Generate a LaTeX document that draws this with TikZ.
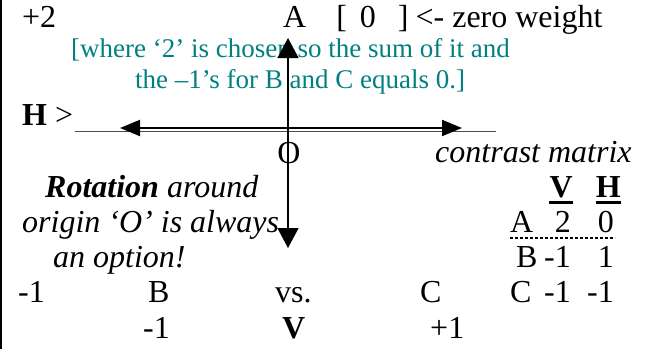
\documentclass[tikz,border=0pt]{standalone}
\usepackage{fontspec}
\setmainfont{Liberation Serif}
\usetikzlibrary{arrows.meta}
\definecolor{noteteal}{RGB}{0,128,128}

\begin{document}
\begin{tikzpicture}[
        x=1pt, y=-1pt,
        txt/.style = {anchor=base west, inner sep=0pt, font=\fontsize{32}{35}\selectfont},
        num/.style = {txt, anchor=base east},
        note/.style = {txt, text=noteteal, font=\fontsize{27}{31}\selectfont},
        axis/.style = {line width=1.5pt, {Triangle[length=20pt,width=21pt]}-{Triangle[length=20pt,width=21pt]}},
        haxis/.style = {line width=2pt, {Triangle[length=20pt,width=16pt]}-{Triangle[length=20pt,width=16pt]}},
        bar/.style = {line width=3pt}
        ]
        \useasboundingbox (0,0) rectangle (645,349);
        \draw[line width=2pt] (1,0) -- (1,349);
        % top rows
        \node[txt] (plus2) at (22,27) {+2};
        \node[txt] (A) at (283,27) {A\hspace{30pt}[\hspace{13pt}0\hspace{22pt}]\hspace{7pt}<- zero weight};
        \node[note] (note1) at (71,57) {[where ‘2’ is chosen so the sum of it and};
        \node[note] (note2) at (135,88) {the –1’s for B and C equals 0.]};
        \node[txt] (H) at (22,125) {\textbf{H} >};
        \coordinate (hend) at (496,131.5);
        \draw[line width=0.8pt, black!70] (H.base east) ++(2,6.5) coordinate (hstart) -- (hend);
        % axes
        \coordinate (vtop) at (288,38);
        \coordinate (vbot) at (288,248);
        \coordinate (hleft) at (120,128);
        \coordinate (hright) at (462,128);
        \draw[haxis] (hleft) -- (hright);
        \draw[axis] (vtop) -- (vbot);
        \node[txt, anchor=base] (O) at (289,163) {O};
        \node[txt] (contrast) at (435,162) {\itshape contrast matrix};
        % left remark
        \node[txt] (rot) at (45,197) {\textbf{\textit{Rotation}} \textit{around}};
        \node[txt] (orig) at (22,232) {\itshape origin ‘O’ is always};
        \node[txt] (opt) at (53,267) {\itshape an option!};
        % bottom rows
        \node[txt] (m1) at (18,302) {-1};
        \node[txt] (B) at (148,302) {B};
        \node[txt] (vs) at (275,302) {vs.};
        \node[txt] (C) at (420,302) {C};
        \node[txt] (m1b) at (143,338) {-1};
        \node[txt] (V) at (282,338) {\textbf{V}};
        \node[txt] (p1) at (430,338) {+1};
        % contrast matrix
        \node[num] (mV) at (573,197) {\textbf{V}};
        \node[num] (mH) at (621,197) {\textbf{H}};
        \draw[bar] (mV.base west) ++(0,5) -- ++(24,0);
        \draw[bar] (mH.base west) ++(0,5) -- ++(25,0);
        \node[txt] (rA) at (510,232) {A};
        \node[num] (rA1) at (571,232) {2};
        \node[num] (rA2) at (614,232) {0};
        \coordinate (dotL) at (510,238);
        \coordinate (dotR) at (615,238);
        \draw[line width=1.5pt, dash pattern=on 2.5pt off 2.5pt] (dotL) -- (dotR);
        \node[txt] (rB) at (516,267) {B};
        \node[num] (rB1) at (571,267) {-1};
        \node[num] (rB2) at (614,267) {1};
        \node[txt] (rC) at (510,302) {C};
        \node[num] (rC1) at (571,302) {-1};
        \node[num] (rC2) at (614,302) {-1};
\end{tikzpicture}
\end{document}
